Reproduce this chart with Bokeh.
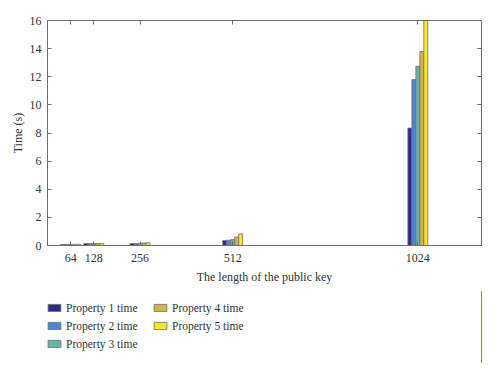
from bokeh.plotting import figure
from bokeh.layouts import column
from bokeh.models import LinearAxis, Legend, LegendItem, FixedTicker, Range1d
from bokeh.embed import file_html
from bokeh.resources import INLINE

key_lengths = [64, 128, 256, 512, 1024]
prop1 = [0.08, 0.14, 0.14, 0.35, 8.35]
prop2 = [0.08, 0.14, 0.14, 0.38, 11.8]
prop3 = [0.08, 0.14, 0.15, 0.42, 12.75]
prop4 = [0.08, 0.14, 0.18, 0.60, 13.8]
prop5 = [0.09, 0.15, 0.19, 0.82, 17.5]
series = [prop1, prop2, prop3, prop4, prop5]
names = ["Property 1 time", "Property 2 time", "Property 3 time",
         "Property 4 time", "Property 5 time"]
colors = ["#2b2a84", "#4a86d2", "#62b5aa", "#d2b24f", "#f7e81c"]
y_ticks = [0, 2, 4, 6, 8, 10, 12, 14, 16]

FONT = "Liberation Serif"
AX = "#6e6e6e"
TXT = "#333333"
EDGE = "#707070"

p = figure(width=490, height=291, output_backend="svg", toolbar_location=None,
           x_range=Range1d(0, 1200), y_range=Range1d(0, 16),
           min_border_left=47, min_border_right=9, min_border_top=20,
           min_border_bottom=46)
p.xgrid.visible = False
p.ygrid.visible = False
p.outline_line_color = AX
p.outline_line_width = 1

bar_w = 11
offsets = [-22, -11, 0, 11, 22]
for vals, col, off in zip(series, colors, offsets):
    xs = [k + off for k in key_lengths]
    p.vbar(x=xs, top=vals, bottom=0, width=bar_w, fill_color=col,
           line_color=EDGE, line_width=0.8)

def style(ax, labels=True):
    ax.axis_line_color = AX
    ax.major_tick_line_color = AX
    ax.minor_tick_line_color = None
    ax.major_tick_in = 4
    ax.major_tick_out = 0
    ax.major_label_text_font = FONT
    ax.major_label_text_font_size = "12px"
    ax.major_label_text_color = TXT
    ax.axis_label_text_font = FONT
    ax.axis_label_text_font_size = "12px"
    ax.axis_label_text_font_style = "normal"
    ax.axis_label_text_color = TXT
    if not labels:
        ax.major_label_text_alpha = 0
        ax.major_label_text_font_size = "1px"
        ax.major_label_standoff = 0

p.xaxis.ticker = FixedTicker(ticks=key_lengths)
p.yaxis.ticker = FixedTicker(ticks=y_ticks)
p.xaxis.axis_label = "The length of the public key"
p.yaxis.axis_label = "Time (s)"
style(p.xaxis[0])
style(p.yaxis[0])
p.xaxis.major_label_standoff = 8
p.yaxis.major_label_standoff = 6
p.xaxis.axis_label_standoff = 5
p.yaxis.axis_label_standoff = 2

top = LinearAxis(ticker=FixedTicker(ticks=key_lengths))
style(top, labels=False)
p.add_layout(top, "above")
right = LinearAxis(ticker=FixedTicker(ticks=y_ticks))
style(right, labels=False)
p.add_layout(right, "right")

# legend panel
pl = figure(width=490, height=72, output_backend="svg", toolbar_location=None,
            x_range=Range1d(0, 1), y_range=Range1d(0, 1),
            x_axis_type=None, y_axis_type=None,
            min_border_left=0, min_border_right=0, min_border_top=0,
            min_border_bottom=0)
pl.xgrid.visible = False
pl.ygrid.visible = False
pl.outline_line_color = None
leg_renderers = []
for col in colors:
    r = pl.vbar(x=[5], top=[1], width=0.1, fill_color=col, line_color=EDGE,
                line_width=0.8)
    leg_renderers.append(r)

items = [LegendItem(label=n, renderers=[r]) for n, r in zip(names, leg_renderers)]
legend = Legend(items=items, ncols=2, location=(-1, 12),
                label_text_font=FONT, label_text_font_size="11.5px",
                label_text_color=TXT, border_line_color=None,
                background_fill_alpha=0, glyph_width=16, glyph_height=9,
                label_height=15, label_width=83, spacing=3, padding=2,
                margin=0, label_standoff=4)
pl.add_layout(legend, "center")

layout = column(p, pl, spacing=0)
open("out.html", "w").write(file_html(layout, INLINE))
